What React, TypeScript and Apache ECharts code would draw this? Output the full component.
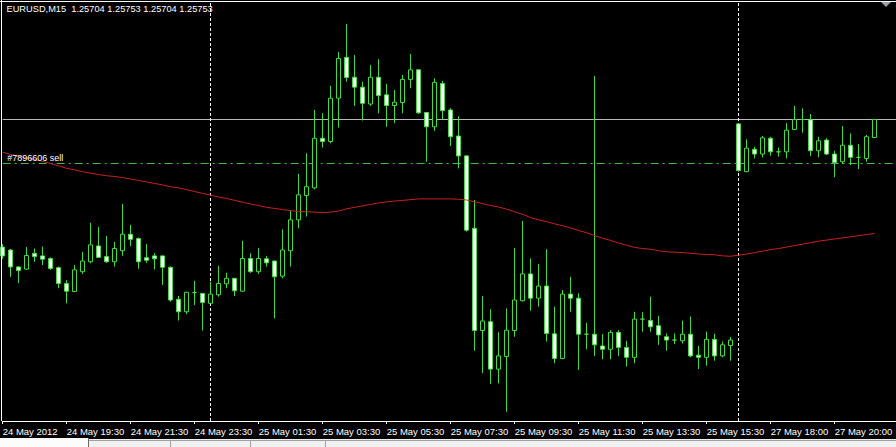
import React, { useEffect, useRef } from "react";
import * as echarts from "echarts";

const symbolTitle = "EURUSD,M15";
const orderLabel = "#7896606 sell";
const orderPrice = 1.25633;
const daySeparatorBars = ["26", "92"];
const BARS_PER_TICK = 8;
const SLOT_COUNT = 113;

const tickLabels = [
  "24 May 2012", "24 May 19:30", "24 May 21:30", "24 May 23:30", "25 May 01:30",
  "25 May 03:30", "25 May 05:30", "25 May 07:30", "25 May 09:30", "25 May 11:30",
  "25 May 13:30", "25 May 15:30", "27 May 18:00", "27 May 20:00",
];

const opens = [
  1.25406, 1.25398, 1.25352, 1.25346, 1.25389, 1.25382, 1.25375, 1.25350, 1.25307, 1.25285,
  1.25339, 1.25366, 1.25409, 1.25380, 1.25366, 1.25396, 1.25441, 1.25429, 1.25377, 1.25382,
  1.25382, 1.25351, 1.25264, 1.25230, 1.25282, 1.25280, 1.25253, 1.25276, 1.25306, 1.25321,
  1.25286, 1.25375, 1.25339, 1.25374, 1.25368, 1.25327, 1.25396, 1.25480, 1.25546, 1.25567,
  1.25702, 1.25693, 1.25811, 1.25922, 1.25868, 1.25841, 1.25795, 1.25868, 1.25820, 1.25791,
  1.25799, 1.25862, 1.25888, 1.25772, 1.25733, 1.25851, 1.25779, 1.25708, 1.25654, 1.25457,
  1.25179, 1.25203, 1.25074, 1.25108, 1.25179, 1.25260, 1.25333, 1.25267, 1.25300, 1.25170,
  1.25103, 1.25278, 1.25267, 1.25169, 1.25169, 1.25137, 1.25128, 1.25174, 1.25133, 1.25106,
  1.25210, 1.25206, 1.25192, 1.25162, 1.25153, 1.25151, 1.25169, 1.25112, 1.25106, 1.25155,
  1.25110, 1.25138, 1.25741, 1.25611, 1.25672, 1.25659, 1.25702, 1.25665, 1.25665, 1.25726,
  1.25753, 1.25752, 1.25668, 1.25697, 1.25659, 1.25638, 1.25683, 1.25650, 1.25647, 1.25704,
];

const highs = [
  1.25414, 1.25401, 1.25353, 1.25406, 1.25402, 1.25407, 1.25378, 1.25353, 1.25316, 1.25357,
  1.25393, 1.25472, 1.25461, 1.25436, 1.25420, 1.25523, 1.25466, 1.25432, 1.25414, 1.25389,
  1.25383, 1.25353, 1.25273, 1.25284, 1.25314, 1.25281, 1.25312, 1.25355, 1.25336, 1.25322,
  1.25423, 1.25389, 1.25403, 1.25382, 1.25369, 1.25454, 1.25505, 1.25605, 1.25661, 1.25779,
  1.25770, 1.25844, 1.25937, 1.26013, 1.25928, 1.25856, 1.25901, 1.25917, 1.25850, 1.25833,
  1.25874, 1.25931, 1.25889, 1.25773, 1.25865, 1.25858, 1.25784, 1.25762, 1.25656, 1.25534,
  1.25273, 1.25237, 1.25174, 1.25239, 1.25403, 1.25477, 1.25375, 1.25360, 1.25400, 1.25244,
  1.25289, 1.25325, 1.25280, 1.25200, 1.25871, 1.25169, 1.25180, 1.25180, 1.25151, 1.25230,
  1.25229, 1.25271, 1.25219, 1.25171, 1.25171, 1.25206, 1.25217, 1.25137, 1.25176, 1.25170,
  1.25149, 1.25161, 1.25743, 1.25699, 1.25679, 1.25708, 1.25706, 1.25677, 1.25743, 1.25790,
  1.25783, 1.25768, 1.25706, 1.25702, 1.25668, 1.25735, 1.25715, 1.25686, 1.25711, 1.25753,
];

const lows = [
  1.25374, 1.25325, 1.25308, 1.25344, 1.25366, 1.25357, 1.25344, 1.25294, 1.25253, 1.25284,
  1.25333, 1.25362, 1.25376, 1.25363, 1.25353, 1.25382, 1.25409, 1.25347, 1.25363, 1.25345,
  1.25303, 1.25257, 1.25206, 1.25224, 1.25248, 1.25179, 1.25251, 1.25271, 1.25294, 1.25273,
  1.25285, 1.25336, 1.25333, 1.25353, 1.25212, 1.25321, 1.25353, 1.25457, 1.25489, 1.25563,
  1.25677, 1.25688, 1.25731, 1.25856, 1.25790, 1.25750, 1.25790, 1.25770, 1.25733, 1.25743,
  1.25770, 1.25838, 1.25768, 1.25638, 1.25722, 1.25752, 1.25681, 1.25620, 1.25448, 1.25124,
  1.25063, 1.25034, 1.25035, 1.24958, 1.25162, 1.25258, 1.25233, 1.25244, 1.25149, 1.25090,
  1.25101, 1.25230, 1.25072, 1.25128, 1.25110, 1.25101, 1.25101, 1.25110, 1.25081, 1.25090,
  1.25176, 1.25176, 1.25140, 1.25124, 1.25142, 1.25144, 1.25106, 1.25074, 1.25083, 1.25097,
  1.25106, 1.25097, 1.25611, 1.25610, 1.25647, 1.25650, 1.25654, 1.25652, 1.25647, 1.25724,
  1.25717, 1.25654, 1.25650, 1.25656, 1.25596, 1.25632, 1.25629, 1.25618, 1.25638, 1.25704,
];

const closes = [
  1.25382, 1.25352, 1.25342, 1.25383, 1.25380, 1.25373, 1.25348, 1.25307, 1.25286, 1.25344,
  1.25368, 1.25412, 1.25378, 1.25366, 1.25402, 1.25441, 1.25427, 1.25366, 1.25370, 1.25374,
  1.25351, 1.25262, 1.25230, 1.25283, 1.25282, 1.25255, 1.25278, 1.25307, 1.25321, 1.25287,
  1.25375, 1.25339, 1.25375, 1.25363, 1.25325, 1.25398, 1.25480, 1.25548, 1.25570, 1.25702,
  1.25693, 1.25811, 1.25919, 1.25867, 1.25841, 1.25797, 1.25868, 1.25818, 1.25791, 1.25800,
  1.25862, 1.25888, 1.25771, 1.25733, 1.25854, 1.25777, 1.25706, 1.25654, 1.25452, 1.25179,
  1.25205, 1.25074, 1.25110, 1.25180, 1.25262, 1.25333, 1.25267, 1.25300, 1.25171, 1.25103,
  1.25278, 1.25267, 1.25169, 1.25169, 1.25140, 1.25128, 1.25174, 1.25133, 1.25106, 1.25210,
  1.25210, 1.25189, 1.25167, 1.25153, 1.25153, 1.25169, 1.25110, 1.25106, 1.25155, 1.25110,
  1.25140, 1.25153, 1.25614, 1.25675, 1.25659, 1.25703, 1.25665, 1.25665, 1.25724, 1.25753,
  1.25753, 1.25668, 1.25695, 1.25659, 1.25636, 1.25683, 1.25650, 1.25650, 1.25706, 1.25753,
];

const movingAverage = [
  1.25664, 1.25658, 1.25653, 1.25648, 1.25644, 1.25639, 1.25633, 1.25627, 1.25620, 1.25616,
  1.25611, 1.25607, 1.25603, 1.25600, 1.25598, 1.25595, 1.25591, 1.25587, 1.25583, 1.25579,
  1.25575, 1.25570, 1.25567, 1.25562, 1.25557, 1.25552, 1.25547, 1.25542, 1.25538, 1.25533,
  1.25528, 1.25523, 1.25519, 1.25514, 1.25511, 1.25508, 1.25505, 1.25503, 1.25502, 1.25501,
  1.25500, 1.25501, 1.25504, 1.25510, 1.25514, 1.25518, 1.25522, 1.25526, 1.25529, 1.25531,
  1.25533, 1.25535, 1.25537, 1.25537, 1.25537, 1.25537, 1.25537, 1.25536, 1.25534, 1.25529,
  1.25524, 1.25519, 1.25515, 1.25509, 1.25502, 1.25495, 1.25486, 1.25480, 1.25475, 1.25469,
  1.25464, 1.25458, 1.25451, 1.25445, 1.25437, 1.25430, 1.25424, 1.25417, 1.25411, 1.25405,
  1.25402, 1.25400, 1.25396, 1.25393, 1.25392, 1.25391, 1.25389, 1.25387, 1.25386, 1.25385,
  1.25382, 1.25381, 1.25384, 1.25387, 1.25391, 1.25395, 1.25399, 1.25402, 1.25406, 1.25410,
  1.25414, 1.25418, 1.25422, 1.25425, 1.25428, 1.25431, 1.25434, 1.25437, 1.25440, 1.25443,
];

const GREEN = "#46da46";
const FONT = "Liberation Sans";

export default function App() {
  const ref = useRef<HTMLDivElement>(null);

  useEffect(() => {
    if (!ref.current) return;
    const chart = echarts.init(ref.current, null, { renderer: "svg" });
    const slots = Array.from({ length: SLOT_COUNT }, (_, i) => String(i));
    const candles = opens.map((o, i) => [o, closes[i], lows[i], highs[i]]);
    const last = opens.length - 1;
    const bid = closes[last];
    const title = `${symbolTitle}  ${opens[last].toFixed(5)} ${highs[last].toFixed(5)} ${lows[last].toFixed(5)} ${closes[last].toFixed(5)}`;
    const isTick = (i: number) => i % BARS_PER_TICK === 0;

    chart.setOption({
      animation: false,
      backgroundColor: "#000000",
      grid: {
        left: 2.7,
        width: 896,
        top: 1,
        height: 420,
        containLabel: false,
        outerBoundsMode: "none",
      },
      xAxis: {
        type: "category",
        data: slots,
        boundaryGap: false,
        axisLine: { show: true, lineStyle: { color: "#ffffff", width: 1 } },
        axisTick: { show: true, interval: isTick, length: 3, lineStyle: { color: "#ffffff" } },
        axisLabel: {
          show: true,
          interval: isTick,
          align: "left",
          margin: 5,
          color: "#ffffff",
          fontSize: 9.5,
          fontFamily: FONT,
          hideOverlap: false,
          formatter: (_v: string, idx: number) => tickLabels[idx / BARS_PER_TICK] ?? "",
        },
        splitLine: { show: false },
      },
      yAxis: {
        type: "value",
        min: 1.2493288,
        max: 1.2607528,
        show: false,
        splitLine: { show: false },
      },
      series: [
        {
          type: "candlestick",
          data: candles,
          barWidth: 4,
          clip: false,
          z: 2,
          itemStyle: {
            color: "#000000",
            color0: "#ffffff",
            borderColor: GREEN,
            borderColor0: GREEN,
            borderColorDoji: GREEN,
            borderWidth: 1,
          },
        },
        {
          type: "line",
          data: movingAverage,
          symbol: "none",
          z: 3,
          lineStyle: { color: "#cc2020", width: 1 },
          markLine: {
            silent: true,
            z: 1,
            precision: 5,
            symbol: ["none", "none"],
            label: { show: false },
            emphasis: { disabled: true },
            data: [
              { yAxis: bid, lineStyle: { color: "#b8b8b8", width: 1, type: "solid" } },
              { yAxis: orderPrice, lineStyle: { color: "#45b845", width: 1, type: [8, 4, 2, 4] } },
              ...daySeparatorBars.map((b) => ({
                xAxis: b,
                lineStyle: { color: "#ffffff", width: 1, type: [3, 2] },
              })),
            ],
          },
        },
      ],
      graphic: [
        { type: "line", z: 20, silent: true, shape: { x1: 1.5, y1: 0, x2: 1.5, y2: 421 }, style: { stroke: "#ffffff", lineWidth: 1 } },
        { type: "line", z: 20, silent: true, shape: { x1: 0, y1: 1.5, x2: 896, y2: 1.5 }, style: { stroke: "#ffffff", lineWidth: 1 } },
        { type: "polygon", z: 20, silent: true, shape: { points: [[881, 2], [891, 2], [886, 7]] }, style: { fill: "#9aa0aa" } },
        { type: "rect", z: 20, silent: true, shape: { x: 0, y: 439, width: 896, height: 8 }, style: { fill: "#f0f0f0" } },
        { type: "rect", z: 21, silent: true, shape: { x: 0, y: 438, width: 88, height: 9 }, style: { fill: "#fcfcfc" } },
        { type: "line", z: 22, silent: true, shape: { x1: 88.5, y1: 438, x2: 88.5, y2: 447 }, style: { stroke: "#6a6a6a", lineWidth: 1 } },
        { type: "line", z: 22, silent: true, shape: { x1: 89, y1: 440.5, x2: 896, y2: 440.5 }, style: { stroke: "#a0a0a0", lineWidth: 1 } },
        { type: "line", z: 22, silent: true, shape: { x1: 170.5, y1: 441, x2: 170.5, y2: 447 }, style: { stroke: "#a0a0a0", lineWidth: 1 } },
        { type: "line", z: 22, silent: true, shape: { x1: 250.5, y1: 441, x2: 250.5, y2: 447 }, style: { stroke: "#a0a0a0", lineWidth: 1 } },
        { type: "line", z: 22, silent: true, shape: { x1: 325.5, y1: 441, x2: 325.5, y2: 447 }, style: { stroke: "#a0a0a0", lineWidth: 1 } },
        {
          type: "text", z: 20, silent: true, x: 6.5, y: 9.4,
          style: { text: title, fill: "#ffffff", fontSize: 9.25, fontFamily: FONT, align: "left", verticalAlign: "middle" },
        },
        {
          type: "text", z: 20, silent: true, x: 7.3, y: 158.4,
          style: { text: orderLabel, fill: "#ffffff", fontSize: 9, fontFamily: FONT, align: "left", verticalAlign: "middle" },
        },
      ],
    });

    return () => chart.dispose();
  }, []);

  return (
    <div
      ref={ref}
      style={{ position: "fixed", left: 0, top: 0, width: 896, height: 447 }}
    />
  );
}
